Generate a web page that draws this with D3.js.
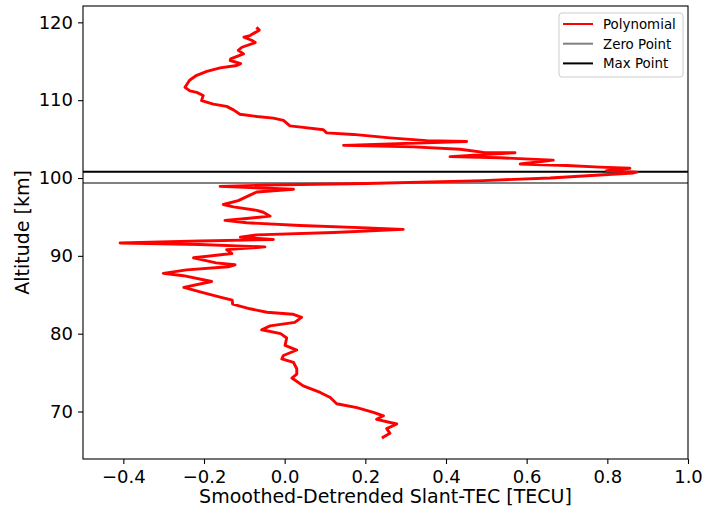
<!DOCTYPE html>
<html>
<head>
<meta charset="utf-8">
<script src="https://cdn.jsdelivr.net/npm/d3@7"></script>
<style>
  html, body { margin: 0; padding: 0; background: #fff; }
  svg text { font-family: "DejaVu Sans", sans-serif; }
</style>
</head>
<body>
<svg id="chart" width="704" height="514"></svg>
<script>
// Altitude [km] of each sample (top to bottom)
const altitude = [
  119.35, 119.0, 118.3, 118.1, 117.7, 117.4, 116.8, 116.4, 115.95, 115.3,
  115.1, 114.7, 114.45, 114.15, 113.7, 113.2, 112.6, 112.3, 111.65, 111.2,
  111.0, 110.6, 109.95, 109.5, 109.2, 108.75, 108.2, 107.9, 107.7, 107.4,
  106.7, 106.5, 106.2, 105.8, 105.6, 105.15, 104.8, 104.7, 104.2, 104.0,
  103.7, 103.3, 103.25, 102.75, 102.6, 102.3, 102.0, 101.8, 101.6, 101.4,
  101.25, 100.95, 100.75, 100.65, 100.0, 99.67, 99.3, 99.1, 98.93, 98.55,
  98.2, 97.9, 97.1, 96.6, 96.3, 95.85, 95.6, 95.1, 94.8, 94.56,
  94.25, 93.9, 93.6, 93.4, 93.0, 92.7, 92.4, 92.1, 91.9, 91.65,
  91.45, 91.15, 90.8, 90.3, 89.75, 89.1, 88.85, 88.6, 88.2, 87.75,
  87.45, 86.7, 85.95, 85.3, 84.7, 84.3, 83.8, 83.2, 82.75, 82.5,
  82.1, 81.45, 81.0, 80.5, 80.0, 79.45, 78.5, 77.9, 77.2, 76.75,
  76.3, 75.5, 74.8, 74.3, 73.3, 72.45, 71.8, 71.0, 70.5, 69.9,
  69.45, 69.0, 68.4, 67.8, 67.2, 66.6
];
// Smoothed-detrended slant TEC [TECU] at each altitude
const tec = [
  -0.070, -0.063, -0.086, -0.101, -0.082, -0.073, -0.106, -0.115, -0.102, -0.134,
  -0.135, -0.109, -0.119, -0.160, -0.193, -0.218, -0.235, -0.239, -0.247, -0.235,
  -0.218, -0.202, -0.206, -0.177, -0.144, -0.127, -0.111, -0.069, -0.028, -0.003,
  0.013, 0.046, 0.096, 0.104, 0.170, 0.261, 0.352, 0.451, 0.146, 0.319,
  0.435, 0.493, 0.571, 0.410, 0.534, 0.666, 0.617, 0.584, 0.699, 0.782,
  0.856, 0.798, 0.873, 0.864, 0.658, 0.493, 0.204, -0.044, -0.160, 0.022,
  -0.069, -0.082, -0.115, -0.152, -0.127, -0.069, -0.053, -0.036, -0.094, -0.148,
  -0.094, 0.038, 0.204, 0.294, 0.121, -0.069, -0.110, -0.028, -0.210, -0.408,
  -0.210, -0.049, -0.144, -0.131, -0.226, -0.170, -0.123, -0.140, -0.243, -0.301,
  -0.251, -0.181, -0.250, -0.205, -0.160, -0.130, -0.129, -0.086, -0.044, 0.020,
  0.042, 0.025, -0.036, -0.057, -0.010, 0.005, 0.001, 0.030, -0.003, -0.007,
  0.022, 0.030, 0.030, 0.018, 0.046, 0.088, 0.113, 0.129, 0.179, 0.220,
  0.245, 0.228, 0.278, 0.253, 0.261, 0.241
];
const zeroPointAlt = 99.35;
const maxPointAlt = 100.8;
const xTicks = [-0.4, -0.2, 0.0, 0.2, 0.4, 0.6, 0.8, 1.0];
const yTicks = [70, 80, 90, 100, 110, 120];
const legendItems = [
  { label: "Polynomial", color: "#ff0000" },
  { label: "Zero Point", color: "#808080" },
  { label: "Max Point", color: "#000000" }
];

const svg = d3.select("#chart");
const margin = { left: 83, top: 6, right: 16, bottom: 55 };
const W = 704, H = 514;
const x = d3.scaleLinear().domain([-0.5, 1.0]).range([margin.left, W - margin.right]);
const y = d3.scaleLinear().domain([63.9, 122.1]).range([H - margin.bottom, margin.top]);

const g = svg.append("g");
svg.append("clipPath").attr("id", "clip").append("rect")
  .attr("x", x.range()[0]).attr("y", y.range()[1])
  .attr("width", x.range()[1] - x.range()[0]).attr("height", y.range()[0] - y.range()[1]);

// horizontal reference lines
const refs = g.append("g").attr("clip-path", "url(#clip)");
refs.append("line").attr("x1", x(-0.5)).attr("x2", x(1.0))
  .attr("y1", y(zeroPointAlt)).attr("y2", y(zeroPointAlt))
  .attr("stroke", "#808080").attr("stroke-width", 2);
refs.append("line").attr("x1", x(-0.5)).attr("x2", x(1.0))
  .attr("y1", y(maxPointAlt)).attr("y2", y(maxPointAlt))
  .attr("stroke", "#000000").attr("stroke-width", 2);

// polynomial curve
const pts = altitude.map((a, i) => [tec[i], a]);
refs.append("path").datum(pts)
  .attr("fill", "none").attr("stroke", "#ff0000").attr("stroke-width", 2.9)
  .attr("stroke-linejoin", "round").attr("stroke-linecap", "butt")
  .attr("d", d3.line().x(d => x(d[0])).y(d => y(d[1])).curve(d3.curveLinear));

// axes
const fmtX = d3.format(".1f");
const xAxis = g.append("g").attr("transform", `translate(0,${y.range()[0]})`)
  .call(d3.axisBottom(x).tickValues(xTicks).tickFormat(fmtX).tickSize(5).tickPadding(6));
const yAxis = g.append("g").attr("transform", `translate(${x.range()[0]},0)`)
  .call(d3.axisLeft(y).tickValues(yTicks).tickFormat(d3.format("d")).tickSize(5).tickPadding(5));
[xAxis, yAxis].forEach(a => {
  a.select(".domain").remove();
  a.selectAll("text").attr("font-size", 18).attr("fill", "#000")
    .attr("font-family", "DejaVu Sans, sans-serif");
  a.selectAll("line").attr("stroke", "#000").attr("stroke-width", 1.1);
});

// frame
g.append("rect")
  .attr("x", x.range()[0]).attr("y", y.range()[1])
  .attr("width", x.range()[1] - x.range()[0]).attr("height", y.range()[0] - y.range()[1])
  .attr("fill", "none").attr("stroke", "#000").attr("stroke-width", 1.1);

// axis labels
g.append("text")
  .attr("x", (x.range()[0] + x.range()[1]) / 2).attr("y", 503)
  .attr("text-anchor", "middle").attr("font-size", 19).attr("fill", "#000")
  .text("Smoothed-Detrended Slant-TEC [TECU]");
g.append("text")
  .attr("transform", `translate(29,${(y.range()[0] + y.range()[1]) / 2}) rotate(-90)`)
  .attr("text-anchor", "middle").attr("font-size", 19).attr("fill", "#000")
  .text("Altitude [km]");

// legend
const lg = g.append("g").attr("transform", "translate(559,13)");
lg.append("rect").attr("width", 124).attr("height", 64).attr("rx", 3)
  .attr("fill", "#fff").attr("fill-opacity", 0.8)
  .attr("stroke", "#cccccc").attr("stroke-width", 1);
legendItems.forEach((d, i) => {
  const yy = 11 + i * 19.7;
  lg.append("line").attr("x1", 4).attr("x2", 34).attr("y1", yy).attr("y2", yy)
    .attr("stroke", d.color).attr("stroke-width", 2);
  lg.append("text").attr("x", 44).attr("y", yy).attr("dy", "0.36em")
    .attr("font-size", 13.4).attr("fill", "#000").text(d.label);
});
</script>
</body>
</html>
